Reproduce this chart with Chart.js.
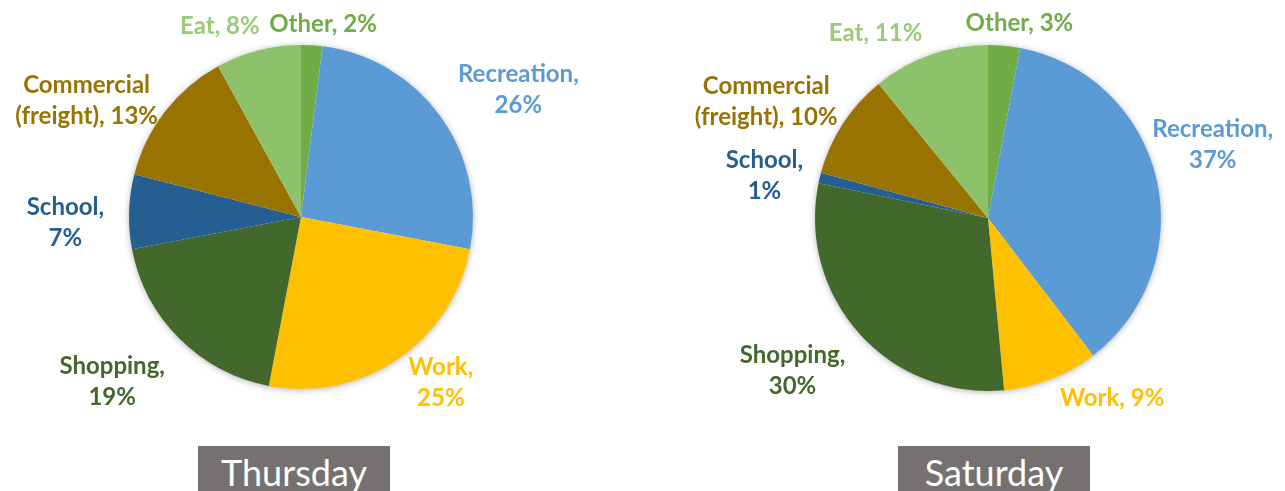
<!DOCTYPE html>
<html>
<head>
<meta charset="utf-8">
<script src="https://cdn.jsdelivr.net/npm/chart.js@4.4.1/dist/chart.umd.min.js"></script>
<style>
  html, body { margin: 0; padding: 0; background: #ffffff; }
  body { width: 1285px; height: 491px; position: relative; overflow: hidden; font-family: Lato, "Open Sans", sans-serif; }
  .wrap { position: absolute; top: 0; height: 440px; }
  .title { position: absolute; background: #767171; color: #ffffff; font-family: Lato, sans-serif; font-size: 36px; text-align: center; line-height: 52px; height: 50px; }
</style>
</head>
<body>
<div class="wrap" id="w1" style="left:0px; width:602px;"><canvas id="c1"></canvas></div>
<div class="wrap" id="w2" style="left:645px; width:640px;"><canvas id="c2"></canvas></div>
<div class="title" style="left:198px; top:446px; width:192px;">Thursday</div>
<div class="title" style="left:898px; top:446px; width:192px;">Saturday</div>
<script>
// ---- data ----
const categories = ["Other", "Recreation", "Work", "Shopping", "School", "Commercial (freight)", "Eat"];
const thursdayValues = [2, 26, 25, 19, 7, 13, 8];
const saturdayValues = [3, 37, 9, 30, 1, 10, 11];
const chartTitles = ["Thursday", "Saturday"];

// ---- style ----
const sliceColors = ["#70AD47", "#5B9BD5", "#FFC000", "#43682B", "#255E91", "#997300", "#8DC16A"];
const labelColors = ["#70AD47", "#5B9BD5", "#FFC000", "#43682B", "#255E91", "#997300", "#9ACB78"];
const thursdayWrap = [false, true, true, true, true, true, false];
const saturdayWrap = [false, true, false, true, true, true, false];
// per-label placement tweaks (px) on top of the radial placement
const thursdayNudge = [[7,8],[18,0],[17,-14],[-20,11],[-11,13],[-11,17],[-25,4]];
const saturdayNudge = [[9,7],[-16,-23],[37,-8],[-17,7],[-4,8],[-5,2],[-34,6]];

function labelLines(cat, val, wrap) {
  if (!wrap) return [cat + ", " + val + "%"];
  if (cat.indexOf(" (") > 0) {
    const i = cat.indexOf(" (");
    return [cat.slice(0, i), cat.slice(i + 1) + ", " + val + "%"];
  }
  return [cat + ",", val + "%"];
}

const shadowPlugin = {
  id: 'pieShadow',
  beforeDatasetsDraw(chart) {
    const arc = chart.getDatasetMeta(0).data[0];
    if (!arc) return;
    const ctx = chart.ctx;
    ctx.save();
    ctx.shadowColor = 'rgba(0,0,0,0.35)';
    ctx.shadowBlur = 7;
    ctx.shadowOffsetX = 0;
    ctx.shadowOffsetY = 1;
    ctx.fillStyle = '#ffffff';
    ctx.beginPath();
    ctx.arc(arc.x, arc.y, arc.outerRadius - 0.5, 0, Math.PI * 2);
    ctx.fill();
    ctx.restore();
  }
};

const labelPlugin = {
  id: 'outLabels',
  afterDatasetsDraw(chart, args, opts) {
    const ctx = chart.ctx;
    const meta = chart.getDatasetMeta(0);
    const vals = chart.data.datasets[0].data;
    const lineH = 31;
    ctx.save();
    ctx.font = 'bold 24px Lato, sans-serif';
    ctx.textAlign = 'center';
    ctx.textBaseline = 'middle';
    meta.data.forEach((arc, i) => {
      const mid = (arc.startAngle + arc.endAngle) / 2;
      const dx = Math.cos(mid), dy = Math.sin(mid);
      const lines = labelLines(chart.data.labels[i], vals[i], opts.wrap[i]);
      let w = 0;
      lines.forEach(l => { w = Math.max(w, ctx.measureText(l).width); });
      const h = lines.length * lineH;
      const r = arc.outerRadius + opts.gap;
      const cx = arc.x + dx * r + dx * w / 2 + opts.nudge[i][0];
      const cy = arc.y + dy * r + dy * h / 2 + opts.nudge[i][1];
      ctx.fillStyle = labelColors[i];
      lines.forEach((l, k) => {
        ctx.fillText(l, cx, cy - h / 2 + lineH / 2 + k * lineH);
      });
    });
    ctx.restore();
  }
};

function makePie(id, values, padding, wrap, nudge) {
  return new Chart(document.getElementById(id), {
    type: 'pie',
    data: {
      labels: categories,
      datasets: [{ data: values, backgroundColor: sliceColors, borderWidth: 0 }]
    },
    options: {
      responsive: true,
      maintainAspectRatio: false,
      animation: false,
      layout: { padding: padding },
      plugins: {
        legend: { display: false },
        tooltip: { enabled: false },
        outLabels: { wrap: wrap, nudge: nudge, gap: 14 }
      }
    },
    plugins: [shadowPlugin, labelPlugin]
  });
}

makePie('c1', thursdayValues, { left: 129, right: 129, top: 45, bottom: 51 }, thursdayWrap, thursdayNudge);
makePie('c2', saturdayValues, { left: 170, right: 124, top: 45, bottom: 49 }, saturdayWrap, saturdayNudge);
</script>
</body>
</html>
